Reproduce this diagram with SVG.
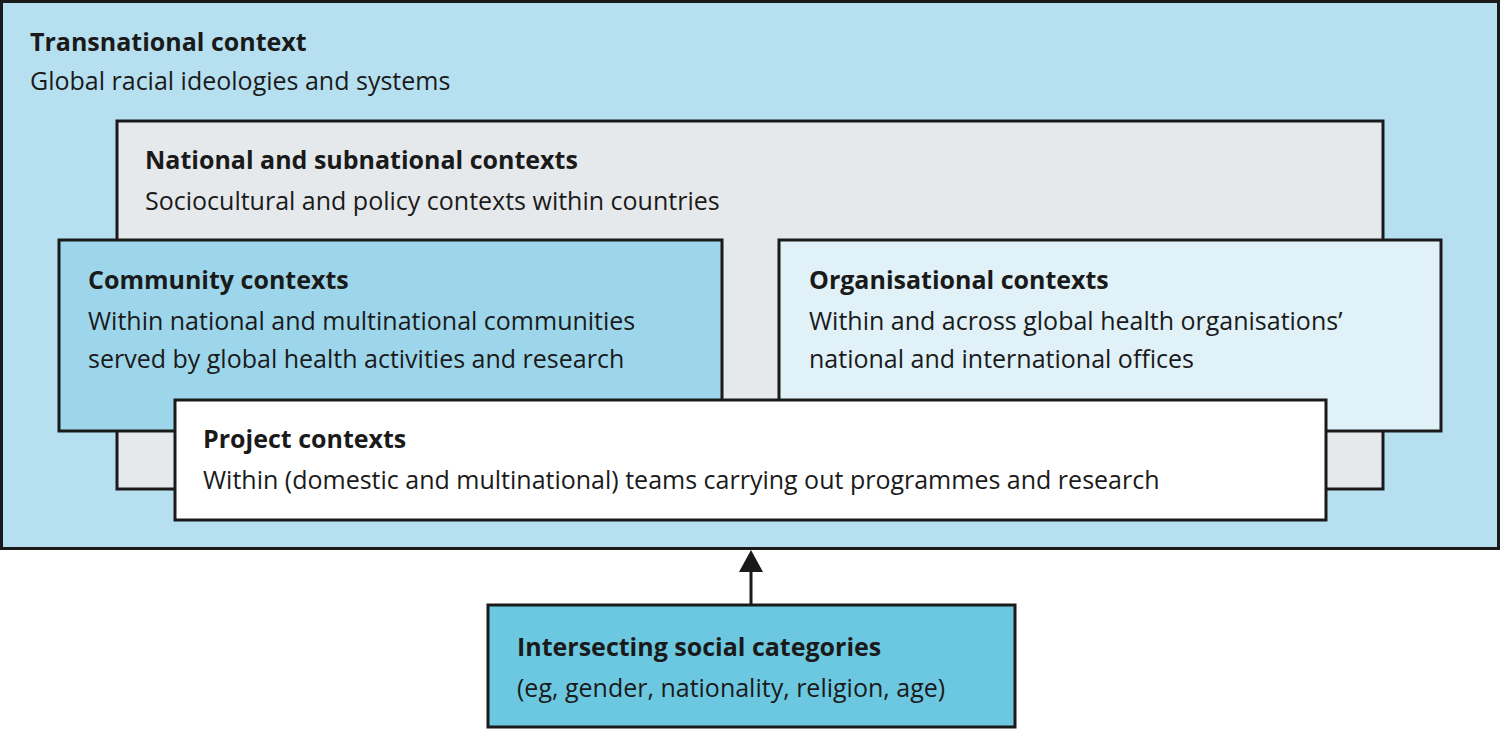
<svg xmlns="http://www.w3.org/2000/svg" width="1500" height="730" viewBox="0 0 1500 730">
<style>
rect{stroke:#1a1a1a;stroke-width:3}
text{font-family:"Open Sans","Liberation Sans",sans-serif;font-size:25px;fill:#1a1a1a}
.t{font-weight:bold}
</style>
<defs><marker id="ah" markerWidth="10" markerHeight="10" refX="5" refY="8" orient="auto" markerUnits="userSpaceOnUse" viewBox="0 0 10 10"><path d="M0,0 L5,0 L10,0 L5,0Z" fill="none"/></marker></defs>
<g id="transnational"><rect x="1.5" y="1.5" width="1497" height="547" fill="#b6e0f0"/>
<text x="30" y="51" class="t">Transnational context</text><text x="30" y="90">Global racial ideologies and systems</text></g>
<g id="national"><rect x="117" y="121" width="1266" height="368" fill="#e5e9ec"/>
<text x="145" y="169" class="t">National and subnational contexts</text><text x="145" y="210">Sociocultural and policy contexts within countries</text></g>
<g id="community"><rect x="59" y="240" width="663" height="191" fill="#9dd6ea"/>
<text x="88" y="289" class="t">Community contexts</text><text x="88" y="330">Within national and multinational communities</text><text x="88" y="368">served by global health activities and research</text></g>
<g id="organisational"><rect x="779" y="240" width="662" height="191" fill="#e0f1f8"/>
<text x="809" y="289" class="t">Organisational contexts</text><text x="809" y="330">Within and across global health organisations’</text><text x="809" y="368">national and international offices</text></g>
<g id="project"><rect x="175" y="400" width="1151" height="120" fill="#ffffff"/>
<text x="203" y="448" class="t">Project contexts</text><text x="203" y="489">Within (domestic and multinational) teams carrying out programmes and research</text></g>
<g id="connectors"><line x1="751" y1="605" x2="751" y2="570" stroke="#1a1a1a" stroke-width="3"/><polygon points="751,550 739,572 763,572" fill="#1a1a1a"/></g>
<g id="intersecting"><rect x="488" y="605" width="527" height="122" fill="#6cc8e0"/>
<text x="517" y="656" class="t">Intersecting social categories</text><text x="517" y="697">(eg, gender, nationality, religion, age)</text></g>
</svg>
